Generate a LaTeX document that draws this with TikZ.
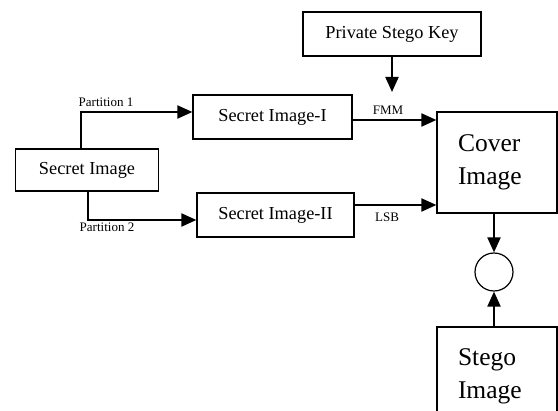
\documentclass[tikz,border=0pt]{standalone}
\usepackage{fontspec}
\setmainfont{Liberation Serif}
\usepackage{tikz}
\usetikzlibrary{arrows.meta, positioning, calc}

\begin{document}
\begin{tikzpicture}[x=1pt, y=-1pt,
    box/.style={draw, line width=1.2pt, inner sep=0pt, font=\fontsize{18.3}{22}\selectfont},
    bigbox/.style={draw, line width=1.2pt, inner xsep=21pt, text width=78pt, align=left,
      font=\fontsize{25.5}{33}\selectfont},
    arr/.style={line width=2pt, -{Triangle[length=15pt, width=13pt]}},
    lbl/.style={inner sep=0pt, font=\fontsize{13}{15}\selectfont}]
  \useasboundingbox (0,0) rectangle (558,411);

  % Kaesten
  \node[box, minimum width=143pt, minimum height=42pt] (secret) at (87,170) {Secret Image};
  \node[box, minimum width=159pt, minimum height=44pt] (imgI) at (272.5,117) {Secret Image-I};
  \node[box, minimum width=157pt, minimum height=44pt] (imgII) at (275.5,215) {Secret Image-II};
  \node[box, minimum width=178pt, minimum height=44pt] (key) at (392,34) {Private Stego Key};
  \node[bigbox, minimum height=101pt] (cover) at (497,162.5) {Cover\\Image};
  \node[draw, circle, line width=1.2pt, minimum size=38pt, inner sep=0pt] (circ) at (494,272) {};
  \node[bigbox, minimum height=98pt] (stego) at (497,376) {Stego\\Image};

  % Partitionen
  \draw[arr] ([xshift=-6pt]secret.north) |- ([yshift=5pt]imgI.west);
  \node[lbl] (p1) at (106,102) {Partition 1};
  \draw[arr] ([xshift=1pt]secret.south) |- ([yshift=-5pt]imgII.west);
  \node[lbl] (p2) at (107,227) {Partition 2};

  % Einbettung
  \draw[arr] ([yshift=-3pt]imgI.east) -- ([yshift=-3pt]imgI.east -| cover.west);
  \node[lbl] (fmm) at (388,110) {FMM};
  \draw[arr] ([yshift=10pt]imgII.east) -- ([yshift=10pt]imgII.east -| cover.west);
  \node[lbl] (lsb) at (387,217) {LSB};

  % Schluessel
  \coordinate (keyend) at (392,92);
  \draw[arr] (key.south) -- (keyend);

  % Kreis
  \draw[arr] (cover.south -| circ) -- (circ.north);
  \draw[arr] (stego.north -| circ) -- (circ.south);
\end{tikzpicture}
\end{document}
